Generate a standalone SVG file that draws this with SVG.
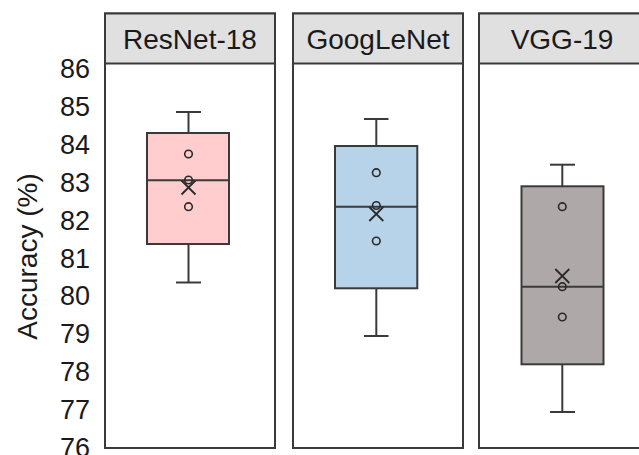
<svg xmlns="http://www.w3.org/2000/svg" width="639" height="455" viewBox="0 0 639 455">
  <style>
    .panel { fill: #ffffff; stroke: #3a3a3a; stroke-width: 2; }
    .strip { fill: #e0e0e0; stroke: #3a3a3a; stroke-width: 2; }
    .strip-text { font-family: "Liberation Sans", Arial, sans-serif; font-size: 28px; fill: #1a1a1a; text-anchor: middle; }
    .tick { font-family: "Liberation Sans", Arial, sans-serif; font-size: 27px; fill: #1a1a1a; text-anchor: end; }
    .axis-title { font-family: "Liberation Sans", Arial, sans-serif; font-size: 28px; fill: #1a1a1a; text-anchor: middle; }
    .box { stroke: #3a3a3a; stroke-width: 2; }
    .line { stroke: #3a3a3a; stroke-width: 2; fill: none; }
    .pt { fill: none; stroke: #2a2a2a; stroke-width: 1.6; }
    .mean { stroke: #2a2a2a; stroke-width: 1.8; fill: none; }
  </style>

  <!-- y axis -->
  <g id="y-axis">
    <text class="axis-title" transform="translate(37,256.5) rotate(-90)">Accuracy (%)</text>
    <text class="tick" x="90" y="78.3">86</text>
    <text class="tick" x="90" y="116.1">85</text>
    <text class="tick" x="90" y="154.0">84</text>
    <text class="tick" x="90" y="191.8">83</text>
    <text class="tick" x="90" y="229.7">82</text>
    <text class="tick" x="90" y="267.5">81</text>
    <text class="tick" x="90" y="305.3">80</text>
    <text class="tick" x="90" y="343.2">79</text>
    <text class="tick" x="90" y="381.0">78</text>
    <text class="tick" x="90" y="418.9">77</text>
    <text class="tick" x="90" y="456.7">76</text>
  </g>

  <!-- ResNet-18 panel -->
  <g id="resnet18">
    <rect class="panel" x="105" y="13.5" width="170" height="434.5"/>
    <rect class="strip" x="105" y="13.5" width="170" height="50"/>
    <text class="strip-text" x="190" y="49">ResNet-18</text>
    <line class="line" x1="188.5" y1="112" x2="188.5" y2="133"/>
    <line class="line" x1="176" y1="112" x2="201" y2="112"/>
    <line class="line" x1="188.5" y1="244" x2="188.5" y2="282.5"/>
    <line class="line" x1="176" y1="282.5" x2="201" y2="282.5"/>
    <rect class="box" fill="#ffcdcd" x="147" y="133" width="82" height="111"/>
    <line class="line" x1="147" y1="180.3" x2="229" y2="180.3"/>
    <circle class="pt" cx="188.5" cy="154" r="3.8"/>
    <circle class="pt" cx="188.5" cy="180" r="3.8"/>
    <circle class="pt" cx="188.5" cy="206.7" r="3.8"/>
    <path class="mean" d="M181.5 180.5 L195.5 194.5 M195.5 180.5 L181.5 194.5"/>
  </g>

  <!-- GoogLeNet panel -->
  <g id="googlenet">
    <rect class="panel" x="293" y="13.5" width="170" height="434.5"/>
    <rect class="strip" x="293" y="13.5" width="170" height="50"/>
    <text class="strip-text" x="378" y="49">GoogLeNet</text>
    <line class="line" x1="376.3" y1="119" x2="376.3" y2="146"/>
    <line class="line" x1="364" y1="119" x2="388.5" y2="119"/>
    <line class="line" x1="376.3" y1="288.3" x2="376.3" y2="336"/>
    <line class="line" x1="364" y1="336" x2="388.5" y2="336"/>
    <rect class="box" fill="#b7d3ea" x="335" y="146" width="82.3" height="142.3"/>
    <line class="line" x1="335" y1="206.7" x2="417.3" y2="206.7"/>
    <circle class="pt" cx="376.3" cy="172.7" r="3.8"/>
    <circle class="pt" cx="376.3" cy="205.5" r="3.8"/>
    <circle class="pt" cx="376.3" cy="241" r="3.8"/>
    <path class="mean" d="M369.3 207 L383.3 221 M383.3 207 L369.3 221"/>
  </g>

  <!-- VGG-19 panel -->
  <g id="vgg19">
    <rect class="panel" x="479" y="13.5" width="170" height="434.5"/>
    <rect class="strip" x="479" y="13.5" width="170" height="50"/>
    <text class="strip-text" x="562" y="49">VGG-19</text>
    <line class="line" x1="562.3" y1="164.7" x2="562.3" y2="186.3"/>
    <line class="line" x1="550" y1="164.7" x2="575" y2="164.7"/>
    <line class="line" x1="562.3" y1="364.3" x2="562.3" y2="412"/>
    <line class="line" x1="550" y1="412" x2="575" y2="412"/>
    <rect class="box" fill="#aea8a8" x="521.5" y="186.3" width="82" height="178"/>
    <line class="line" x1="521.5" y1="286.7" x2="603.5" y2="286.7"/>
    <circle class="pt" cx="562.3" cy="206.7" r="3.8"/>
    <circle class="pt" cx="562.3" cy="286.7" r="3.8"/>
    <circle class="pt" cx="562.3" cy="317" r="3.8"/>
    <path class="mean" d="M555.3 269 L569.3 283 M569.3 269 L555.3 283"/>
  </g>
</svg>
